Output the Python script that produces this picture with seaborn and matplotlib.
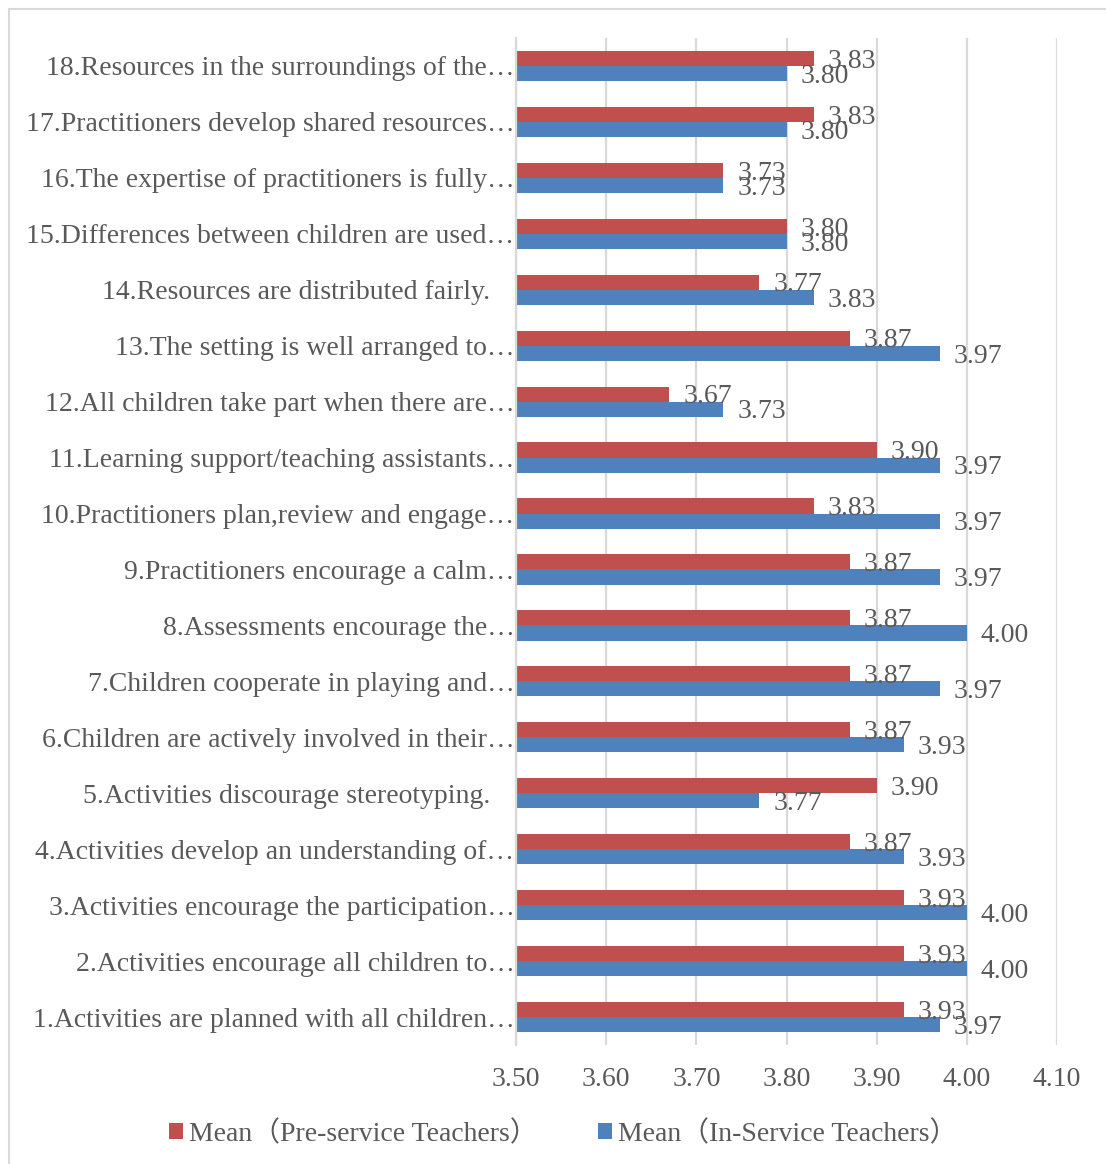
import matplotlib
matplotlib.use("Agg")
import matplotlib.pyplot as plt
import matplotlib.transforms as mtransforms
from matplotlib.lines import Line2D
from matplotlib.patches import Patch
import seaborn as sns
import pandas as pd

# Items listed top to bottom as they appear on the chart
items = [
    "18.Resources in the surroundings of the…",
    "17.Practitioners develop shared resources…",
    "16.The expertise of practitioners is fully…",
    "15.Differences between children are used…",
    "14.Resources are distributed fairly.",
    "13.The setting is well arranged to…",
    "12.All children take part when there are…",
    "11.Learning support/teaching assistants…",
    "10.Practitioners plan,review and engage…",
    "9.Practitioners encourage a calm…",
    "8.Assessments encourage the…",
    "7.Children cooperate in playing and…",
    "6.Children are actively involved in their…",
    "5.Activities discourage stereotyping.",
    "4.Activities develop an understanding of…",
    "3.Activities encourage the participation…",
    "2.Activities encourage all children to…",
    "1.Activities are planned with all children…",
]
pre_service = [3.83, 3.83, 3.73, 3.80, 3.77, 3.87, 3.67, 3.90, 3.83,
               3.87, 3.87, 3.87, 3.87, 3.90, 3.87, 3.93, 3.93, 3.93]
in_service = [3.80, 3.80, 3.73, 3.80, 3.83, 3.97, 3.73, 3.97, 3.97,
              3.97, 4.00, 3.97, 3.93, 3.77, 3.93, 4.00, 4.00, 3.97]
series = ["Mean（Pre-service Teachers）", "Mean（In-Service Teachers）"]
x_ticks = [3.50, 3.60, 3.70, 3.80, 3.90, 4.00, 4.10]

df = pd.DataFrame({
    "item": items * 2,
    "mean": pre_service + in_service,
    "group": [series[0]] * len(items) + [series[1]] * len(items),
})

RED = "#C0504D"
BLUE = "#4F81BD"
TXT = "#595959"
GRID = "#D9D9D9"

sns.set_theme(style="white")
plt.rcParams["font.family"] = ["Liberation Serif", "Noto Sans CJK SC"]
FS = 20

W, H = 1106, 1164
fig = plt.figure(figsize=(W / 100, H / 100), dpi=100)
ax = fig.add_axes([516 / W, 1 - 1045 / H, (1057 - 516) / W, (1045 - 38) / H])

sns.barplot(data=df, y="item", x="mean", hue="group", order=items,
            hue_order=series, palette=[RED, BLUE], orient="h",
            width=0.54, saturation=1, errorbar=None, ax=ax,
            legend=False, linewidth=0)

ax.set_xlim(3.50, 4.10)
ax.set_xticks(x_ticks)
ax.set_xticklabels([f"{t:.2f}" for t in x_ticks])
ax.set_xlabel("")
ax.set_ylabel("")
ax.grid(axis="x", color=GRID, linewidth=1.6)
ax.grid(axis="y", visible=False)
ax.set_axisbelow(True)
for side in ["top", "right", "bottom"]:
    ax.spines[side].set_visible(False)
ax.spines["left"].set_color(GRID)
ax.spines["left"].set_linewidth(1.6)
ax.tick_params(axis="x", length=0, pad=16, labelsize=FS, labelcolor=TXT)
ax.tick_params(axis="y", length=0, pad=1, labelsize=FS, labelcolor=TXT)

# full (untruncated) item names sit a little further from the axis
shift = mtransforms.ScaledTranslation(-24 / 100, 0, fig.dpi_scale_trans)
for lab in ax.get_yticklabels():
    if not lab.get_text().endswith("…"):
        lab.set_transform(lab.get_transform() + shift)

# value labels at the end of every bar
for container in ax.containers:
    for bar in container:
        v = bar.get_width()
        y = bar.get_y() + bar.get_height() / 2
        ax.annotate(f"{v:.2f}", xy=(v, y), xytext=(10, -2),
                    textcoords="offset points", ha="left", va="center",
                    fontsize=FS, color=TXT, annotation_clip=False)

handles = [Patch(facecolor=RED, edgecolor="none"),
           Patch(facecolor=BLUE, edgecolor="none")]
fig.legend(handles, series, loc="center", bbox_to_anchor=(0.509, 1 - 1134 / H),
           ncol=2, frameon=False, fontsize=FS, labelcolor=TXT,
           handlelength=0.5, handleheight=0.5, handletextpad=0.2,
           columnspacing=2.2)

# chart area border
fig.add_artist(Line2D([8.5 / W, 8.5 / W], [0, 1 - 9 / H], transform=fig.transFigure,
                      color=GRID, linewidth=1.5))
fig.add_artist(Line2D([8.5 / W, 1], [1 - 9 / H, 1 - 9 / H], transform=fig.transFigure,
                      color=GRID, linewidth=1.5))

fig.savefig("out.png", dpi=100, facecolor="white")
